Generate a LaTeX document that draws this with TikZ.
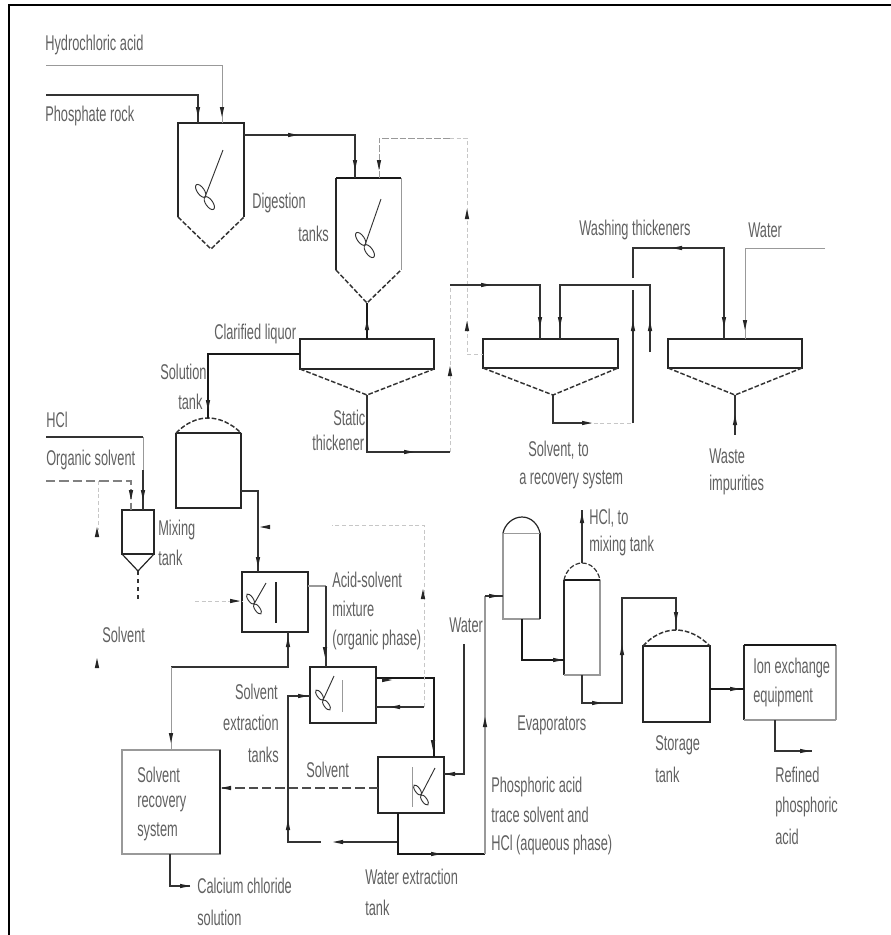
\documentclass[tikz,border=0pt]{standalone}
\usepackage{fontspec}
\setmainfont[FakeStretch=0.6]{Liberation Sans}
\usetikzlibrary{fit}
\tikzset{
  x=0.75pt,y=-0.75pt,
  lab/.style={anchor=west,inner sep=0pt,text=black!62,font=\fontsize{16pt}{18pt}\selectfont},
  box/.style={inner sep=0pt,outer sep=0pt},
  wall/.style={draw=black!85,line width=0.9pt,line join=miter},
  heavy/.style={draw=black!90,line width=1.7pt},
  pale/.style={draw=black!40,line width=0.7pt},
  faint/.style={draw=black!22,line width=0.7pt,dash pattern=on 3pt off 2pt},
  flow/.style={draw=black!80,line width=1pt},
  hflow/.style={draw=black!90,line width=1.5pt},
  cone/.style={draw=black!80,line width=1.1pt,dash pattern=on 3.5pt off 1.5pt},
  dashflow/.style={draw=black!70,line width=1.1pt,dash pattern=on 7pt off 3pt},
  stir/.style={draw=black!80,line width=0.7pt},
}
\newcommand\ah[3]{\fill[black!85,shift={(#1,#2)},rotate=#3] (5,0)--(-5,2.2)--(-5,-2.2)--cycle;}
\newcommand\boxat[5]{\node[box,fit={(#2,#3)(#4,#5)}] (#1) {};}
% stirrer: shaft from (a,b) to (c,d), two blade lobes around (c,d)
\newcommand\stirrer[7]{\draw[stir] (#1,#2)--(#3,#4);
  \begin{scope}[shift={(#3,#4)},rotate=#7]
  \draw[stir] (#5,0) ellipse[x radius=#5,y radius=#6];
  \draw[stir] (-#5,0) ellipse[x radius=#5,y radius=#6];
  \end{scope}}
\begin{document}
\begin{tikzpicture}
\useasboundingbox (0,0) rectangle (891,935);
\fill[white] (0,0) rectangle (891,935);
% frame
\draw[black,line width=1.5pt] (9,935)--(9,5)--(891,5);

% ---------- digestion tank 1
\boxat{dA}{178}{123}{244}{217}
\coordinate (dAtip) at (211,249);
\draw[wall] (dA.south west)--(dA.north west)--(dA.north east)--(dA.south east);
\draw[cone] (dA.south west)--(dAtip)--(dA.south east);
\stirrer{223}{150}{205}{197}{7.5}{3.5}{-55}
% ---------- digestion tank 2
\boxat{dB}{336}{178}{401}{270}
\coordinate (dBtip) at (367,303);
\draw[wall] (dB.south west)--(dB.north west);
\draw[heavy] (dB.north west)--(dB.north east);
\draw[pale] (dB.north east)--(dB.south east);
\draw[cone] (dB.south west)--(dBtip)--(dB.south east);
\stirrer{381}{199}{365}{245}{7.5}{3.5}{-55}

% ---------- thickeners
\boxat{thA}{300}{339}{434}{369}
\coordinate (thAtip) at (367,395);
\draw[wall,line width=1.1pt] (thA.south west) rectangle (thA.north east);
\draw[cone] (thA.south west)--(thAtip)--(thA.south east);
\boxat{thB}{483}{339}{618}{368}
\coordinate (thBtip) at (553,395);
\draw[wall,line width=1.1pt] (thB.south west) rectangle (thB.north east);
\draw[cone] (thB.south west)--(thBtip)--(thB.south east);
\boxat{thC}{668}{339}{802}{368}
\coordinate (thCtip) at (735,395);
\draw[wall] (thC.south west) rectangle (thC.north east);
\draw[cone] (thC.south west)--(thCtip)--(thC.south east);

% ---------- solution tank
\boxat{sol}{176}{433}{241}{508}
\coordinate (solTop) at (208,418);
\draw[wall] (sol.north west)--(sol.south west)--(sol.south east)--(sol.north east);
\draw[wall] (sol.north west)--(sol.north east);
\draw[cone] (sol.north west) .. controls (186,423) and (197,418) .. (solTop) .. controls (219,418) and (231,423) .. (sol.north east);

% ---------- mixing tank
\boxat{mix}{122}{510}{154}{554}
\coordinate (mixTip) at (138,571);
\draw[wall] (mix.south west) rectangle (mix.north east);
\draw[wall] (mix.south west)--(mixTip)--(mix.south east);

% ---------- extraction tanks
\boxat{exA}{242}{572}{308}{632}
\draw[wall,line width=1.3pt] (exA.south west) rectangle (exA.north east);
\draw[wall] (276,582)--(276,623);
\stirrer{266}{583}{254}{604}{6}{2.5}{-55}
\boxat{exB}{310}{667}{376}{723}
\draw[wall,line width=1pt] (exB.south west) rectangle (exB.north east);
\draw[pale] (342,680)--(342,712);
\stirrer{334}{676}{323}{700}{6}{2.5}{-55}
\boxat{exC}{378}{757}{444}{813}
\draw[wall,line width=1pt] (exC.south west) rectangle (exC.north east);
\draw[pale] (412,767)--(412,807);
\stirrer{435}{768}{421}{795}{6}{2.5}{-55}

% ---------- solvent recovery
\boxat{rec}{122}{750}{220}{854}
\draw[pale,line width=1pt] (rec.south west) rectangle (rec.north east);
\draw[wall,line width=1pt] (rec.north east)--(rec.south east);

% ---------- evaporators
\boxat{evA}{503}{533}{540}{619}
\coordinate (evATop) at (522,517);
\draw[pale,line width=1pt] (evA.north west)--(evA.south west)--(evA.south east);
\draw[wall] (evA.south east)--(evA.north east);
\draw[pale] (evA.north west)--(evA.north east);
\draw[wall] (evA.north west) .. controls (505,524) and (513,517) .. (evATop) .. controls (531,517) and (538,524) .. (evA.north east);
\boxat{evB}{564}{580}{600}{675}
\coordinate (evBTop) at (582,563);
\draw[wall] (evB.north west)--(evB.south west);
\draw[pale,line width=1pt] (evB.south west)--(evB.south east)--(evB.north east);
\draw[heavy] (evB.north west)--(evB.north east);
\draw[cone,line width=.9pt] (evB.north west) .. controls (566,570) and (574,563) .. (evBTop) .. controls (591,563) and (598,570) .. (evB.north east);

% ---------- storage tank
\boxat{sto}{643}{646}{710}{722}
\coordinate (stoTop) at (676,630);
\draw[wall,line width=1pt] (sto.south west) rectangle (sto.north east);
\draw[cone] (sto.north west) .. controls (652,636) and (664,630) .. (stoTop) .. controls (688,630) and (700,636) .. (sto.north east);

% ---------- ion exchange
\boxat{ion}{744}{645}{836}{720}
\draw[wall,line width=1.1pt] (ion.north west)--(ion.south west);
\draw[pale,line width=1.2pt] (ion.south west)--(ion.south east);
\draw[pale,line width=1pt] (ion.south east)--(ion.north east);
\draw[heavy] (ion.north west)--(ion.north east);

% ---------- labels
\node[lab] (tHCA) at (45,45) {Hydrochloric acid};
\node[lab] (tROCK) at (45,116) {Phosphate rock};
\node[lab] (tDIG) at (252,203) {Digestion};
\node[lab] (tTK) at (298,234) {tanks};
\node[lab] (tCL) at (214,334) {Clarified liquor};
\node[lab] (tSOL1) at (160,372) {Solution};
\node[lab] (tSOL2) at (178,402) {tank};
\node[lab] (tSTA) at (333,418) {Static};
\node[lab] (tSTB) at (312,443) {thickener};
\node[lab] (tHCL) at (46,420) {HCl};
\node[lab] (tORG) at (46,460) {Organic solvent};
\node[lab] (tMIXA) at (158,530) {Mixing};
\node[lab] (tMIXB) at (158,558) {tank};
\node[lab] (tSV) at (102,635) {Solvent};
\node[lab] (tWT) at (579,230) {Washing thickeners};
\node[lab] (tWA) at (748,230) {Water};
\node[lab] (tREA) at (528,450) {Solvent, to};
\node[lab] (tREB) at (519,480) {a recovery system};
\node[lab] (tWIA) at (709,456) {Waste};
\node[lab] (tWIB) at (709,485) {impurities};
\node[lab] (tASA) at (332,580) {Acid-solvent};
\node[lab] (tASB) at (332,609) {mixture};
\node[lab] (tASC) at (332,640) {(organic phase)};
\node[lab,anchor=east] (tSEA) at (278,692) {Solvent};
\node[lab,anchor=east] (tSEB) at (279,723) {extraction};
\node[lab,anchor=east] (tSEC) at (279,755) {tanks};
\node[lab] (tW2) at (449,625) {Water};
\node[lab] (tSV2) at (306,770) {Solvent};
\node[lab] (tRCA) at (137,775) {Solvent};
\node[lab] (tRCB) at (137,804) {recovery};
\node[lab] (tRCC) at (137,832) {system};
\node[lab] (tCAA) at (197,886) {Calcium chloride};
\node[lab] (tCAB) at (197,918) {solution};
\node[lab] (tWXA) at (365,877) {Water extraction};
\node[lab] (tWXB) at (365,908) {tank};
\node[lab] (tPHA) at (491,787) {Phosphoric acid};
\node[lab] (tPHB) at (491,815) {trace solvent and};
\node[lab] (tPHC) at (491,845) {HCl (aqueous phase)};
\node[lab] (tHTA) at (589,518) {HCl, to};
\node[lab] (tHTB) at (589,546) {mixing tank};
\node[lab] (tEV) at (517,725) {Evaporators};
\node[lab] (tSTGA) at (655,745) {Storage};
\node[lab] (tSTGB) at (655,775) {tank};
\node[lab] (tIOA) at (753,668) {Ion exchange};
\node[lab] (tIOB) at (753,697) {equipment};
\node[lab] (tRFA) at (775,775) {Refined};
\node[lab] (tRFB) at (775,807) {phosphoric};
\node[lab] (tRFC) at (775,837) {acid};

% ---------- connectors, free ends
\coordinate (inHCA) at (46,65);
\coordinate (inROCK) at (46,95);
\coordinate (inHCL) at (46,437);
\coordinate (inORG) at (46,481);
\coordinate (inWAT) at (825,248);

% feed lines
\draw[pale] (inHCA)-|(dA.north -| 222,0);
\draw[flow] (inROCK)-|(dA.north -| 198,0);
\draw[flow] (dA.east |- 0,135)-|(dB.north -| 355,0);
\draw[hflow,line width=1.2pt] (dBtip)--(thA.north -| dBtip);
\draw[pale,dash pattern=on 5pt off 1.5pt] (dB.north -| 379,0)|-(450,138);
\draw[faint] (450,138)-|(467,354)--(thB.west |- 0,354);
\draw[flow] (thAtip)|-(450,452);
\draw[faint] (450,452)--(450,285);
\draw[flow] (450,285)-|(thB.north -| 540,0);
\draw[hflow,line width=1.3pt] (thA.west |- 0,354)-|(solTop);
% solution tank to extraction
\draw[flow,line width=1.1pt] (sol.east |- 0,491)-|(exA.north -| 258,0);
% mixing tank feed
\draw[flow,line width=1.2pt] (inHCL)--(143,437);
\draw[pale] (143,437)--(143,470);
\draw[flow] (143,470)--(mix.north -| 143,0);
\draw[dashflow,line width=.9pt,draw=black!50] (inORG)-|(mix.north -| 131,0);
\draw[faint] (98,481)--(98,530);
\draw[flow,dashed] (mixTip)--(138,600);
% extraction A
\draw[faint] (195,601)--(exA.west |- 0,601);
\draw[pale,line width=1pt] (exA.east |- 0,586)--(326,586);
\draw[flow] (326,586)--(exB.north -| 326,0);
\draw[flow] (exA.south -| 288,0)|-(171,667);
\draw[pale] (171,667)--(rec.north -| 171,0);
% extraction B
\draw[flow] (exB.west |- 0,696)-|(288,842)--(321,842);
\draw[flow] (338,842)--(398,842);
\draw[hflow,line width=1.4pt] (exB.east |- 0,678)-|(exC.north -| 434,0);
\draw[flow] (exB.east |- 0,707)--(424,707);
\draw[faint] (424,707)|-(332,525);
% extraction C
\draw[dashflow] (exC.west |- 0,788)--(rec.east |- 0,788);
\draw[flow] (exC.east |- 0,774)-|(464,644);
\draw[hflow,line width=1.2pt] (exC.south -| 398,0)|-(485,854);
\draw[pale,line width=1pt] (485,854)--(485,596);
\draw[flow,line width=1.2pt] (485,596)--(evA.west |- 0,596);
\draw[flow] (rec.south -| 170,0)|-(190,886);
% evaporators
\draw[hflow,line width=1.3pt] (evA.south -| 522,0)|-(evB.west |- 0,660);
\draw[flow] (evBTop)--(582,510);
\draw[flow] (evB.south -| 582,0)|-(622,703)|-(676,598)--(stoTop);
\draw[hflow] (sto.east |- 0,689)--(ion.west |- 0,689);
\draw[flow] (ion.south -| 775,0)|-(812,751);
% washing thickeners
\draw[flow] (thBtip)|-(587,423);
\draw[faint] (587,423)--(633,423);
\draw[flow] (633,423)--(633,290);
\draw[flow] (633,278)|-(724,248)--(thC.north -| 724,0);
\draw[flow] (650,352)|-(560,285)--(thB.north -| 560,0);
\draw[pale] (inWAT)-|(thC.north -| 745,0);
\draw[flow] (thCtip)--(735,435);

% ---------- arrowheads
\ah{198}{112}{270}\ah{222}{112}{270}
\ah{293}{135}{0}\ah{355}{165}{270}\ah{379}{165}{270}
\ah{367}{325}{90}\ah{208}{405}{270}
\ah{467}{214}{90}\ah{467}{326}{90}\ah{450}{371}{90}
\ah{486}{285}{0}\ah{540}{322}{270}\ah{560}{322}{270}
\ah{633}{326}{90}\ah{650}{326}{90}\ah{677}{248}{180}\ah{724}{322}{270}\ah{745}{325}{270}
\ah{587}{423}{0}\ah{735}{420}{90}\ah{409}{452}{0}
\ah{131}{495}{270}\ah{143}{495}{270}\ah{97}{532}{90}\ah{97}{663}{90}
\ah{265}{527}{180}\ah{258}{562}{270}
\ah{235}{601}{0}\ah{288}{642}{90}\ah{325}{652}{270}
\ah{171}{738}{270}\ah{303}{696}{0}\ah{395}{707}{180}\ah{387}{680}{0}
\ah{433}{745}{270}\ah{423}{594}{90}\ah{450}{774}{180}
\ah{226}{788}{180}\ah{288}{825}{90}\ah{338}{842}{180}\ah{436}{854}{0}
\ah{485}{722}{90}\ah{185}{886}{0}
\ah{494}{596}{0}\ah{558}{660}{0}\ah{582}{518}{90}\ah{622}{650}{90}\ah{676}{617}{270}
\ah{735}{689}{0}\ah{805}{751}{0}\ah{597}{703}{0}
\end{tikzpicture}
\end{document}
